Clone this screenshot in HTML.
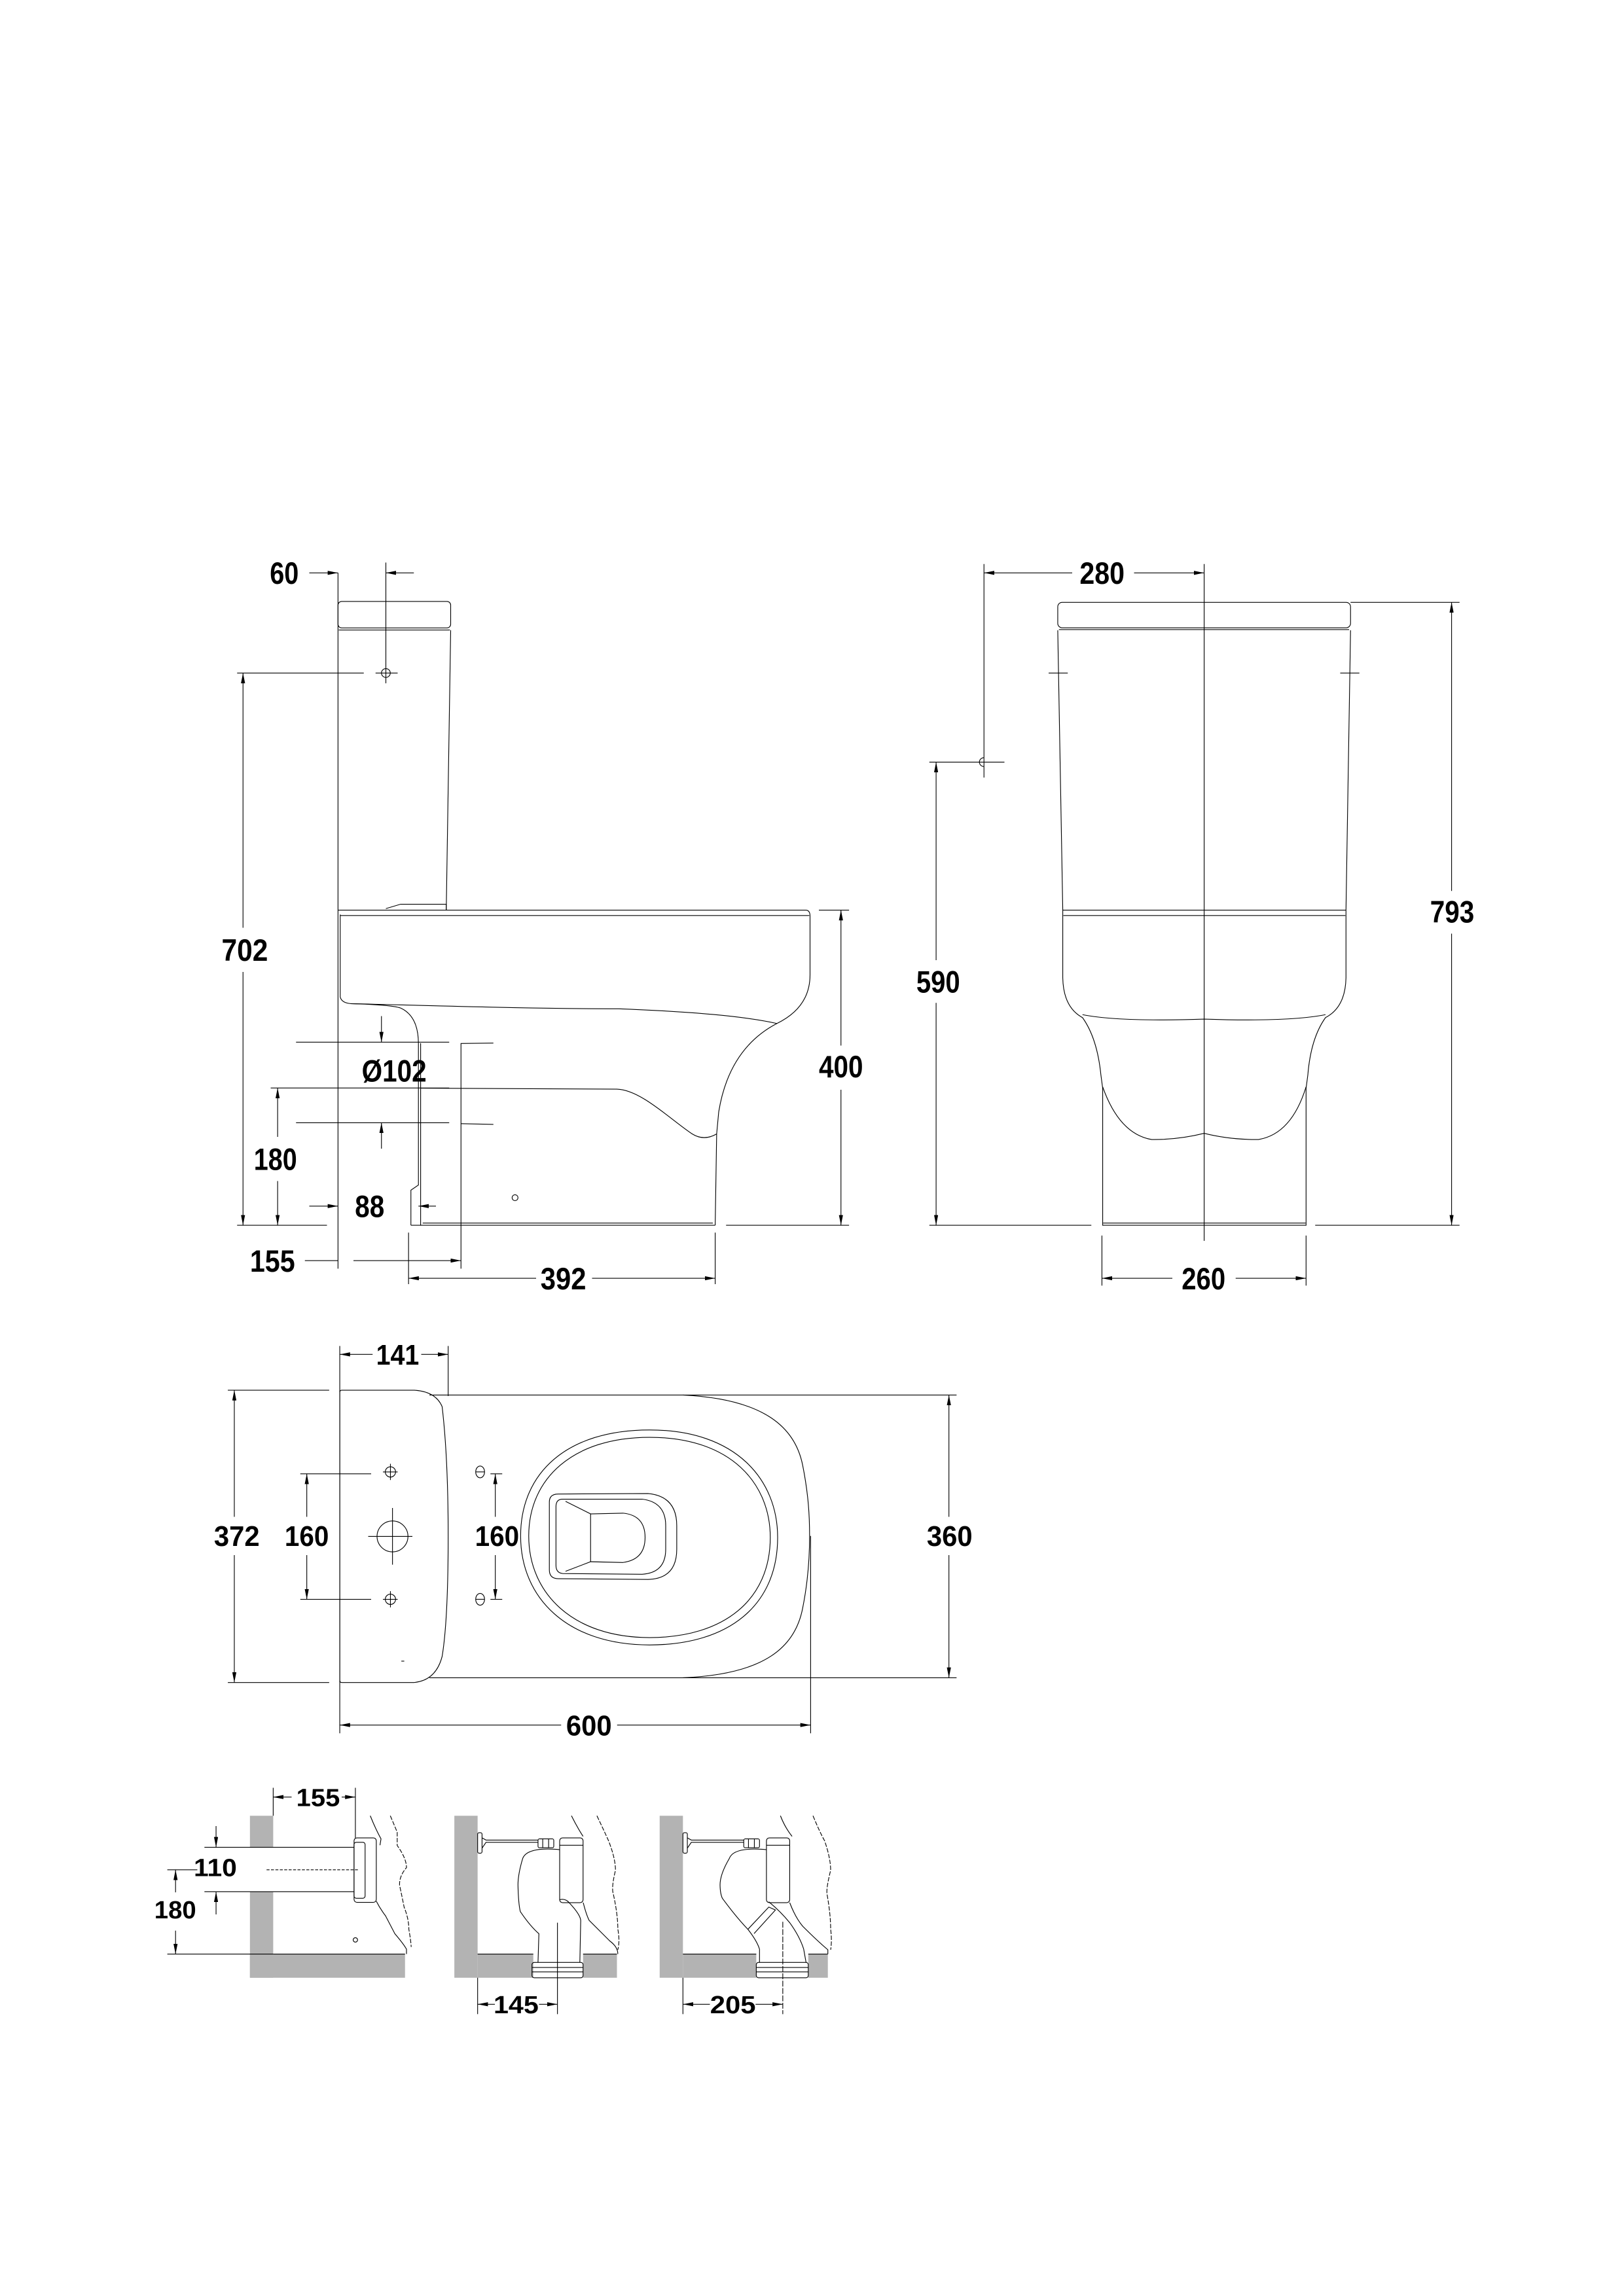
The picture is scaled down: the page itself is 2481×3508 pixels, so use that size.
<!DOCTYPE html>
<html><head><meta charset="utf-8">
<style>
html,body{margin:0;padding:0;background:#fff;}
svg{display:block;}
text{font-family:"Liberation Sans",Arial,sans-serif;font-weight:bold;fill:#000;text-anchor:middle;}
</style></head>
<body>
<svg width="2481" height="3508" viewBox="0 0 1102.67 1559.11" preserveAspectRatio="none" xmlns="http://www.w3.org/2000/svg">
<defs>
<marker id="a" viewBox="0 0 10 4" refX="10" refY="2" markerWidth="7" markerHeight="2.8" markerUnits="userSpaceOnUse" orient="auto"><path d="M0,0 L10,2 L0,4z" fill="#000"/></marker>
</defs>
<rect width="1102.67" height="1559.11" fill="#fff"/>
<g fill="none" stroke="#000" stroke-width="0.5">

<!-- ================= SIDE VIEW ================= -->
<rect x="229.5" y="408.4" width="76.5" height="18" rx="2.5"/>
<line x1="230" y1="427.8" x2="305.5" y2="427.8"/>
<path d="M306,428 L303,618"/>
<path d="M262,617 L272,614 L303,614 L303,618"/>
<line x1="229.5" y1="408" x2="229.5" y2="861.5"/>
<path d="M229.5,618 L547,618 Q550,618 550,622 L550,662 Q550,684 527.5,695 Q495,712 488,755 L486.6,770 L485.6,832"/>
<line x1="231" y1="621.7" x2="549.5" y2="621.7"/>
<path d="M231,621 L231,677 Q232,681 238,681.5 C300,683 360,685 420,685 C470,687 505,690 527.5,695"/>
<path d="M238,681.5 C255,682 268,683 272,684.5 Q284,690 284.1,708.4 L284.1,804.7 L279,808.2 L279,832"/>
<path d="M285.6,708.4 L285.6,832"/>
<line x1="279" y1="832" x2="485.6" y2="832"/>
<line x1="287" y1="830.5" x2="484" y2="830.5"/>
<path d="M285.6,738.9 L418.8,739.6 C435,740 455,760 470,770 Q478,775 486.6,770"/>
<circle cx="349.7" cy="813.3" r="2"/>
<line x1="229.5" y1="389" x2="229.5" y2="408"/>
<line x1="262" y1="382" x2="262" y2="464"/>
<line x1="210" y1="389" x2="229.5" y2="389" marker-end="url(#a)"/>
<line x1="281" y1="389" x2="262" y2="389" marker-end="url(#a)"/>
<circle cx="262" cy="457" r="3"/>
<line x1="161" y1="457" x2="247" y2="457"/>
<line x1="255" y1="457" x2="270" y2="457"/>
<line x1="165" y1="630" x2="165" y2="457" marker-end="url(#a)"/>
<line x1="165" y1="660" x2="165" y2="832" marker-end="url(#a)"/>
<line x1="161" y1="832" x2="222" y2="832"/>
<line x1="493" y1="832" x2="576.5" y2="832"/>
<line x1="183.8" y1="738.8" x2="305" y2="738.8"/>
<line x1="188.5" y1="772" x2="188.5" y2="738.8" marker-end="url(#a)"/>
<line x1="188.5" y1="802" x2="188.5" y2="832" marker-end="url(#a)"/>
<line x1="201" y1="707.7" x2="305" y2="707.7"/>
<line x1="201" y1="762.4" x2="305" y2="762.4"/>
<line x1="259" y1="690" x2="259" y2="707.7" marker-end="url(#a)"/>
<line x1="259" y1="780" x2="259" y2="762.4" marker-end="url(#a)"/>
<path d="M335,708.3 L313,708.6 L313,861.5"/>
<path d="M313,763 L335,763.5"/>
<line x1="210" y1="819" x2="229.5" y2="819" marker-end="url(#a)"/>
<line x1="296" y1="819" x2="284.1" y2="819" marker-end="url(#a)"/>
<line x1="207" y1="856" x2="229.5" y2="856"/>
<line x1="240" y1="856" x2="313" y2="856" marker-end="url(#a)"/>
<line x1="277.4" y1="837" x2="277.4" y2="872"/>
<line x1="485.6" y1="837" x2="485.6" y2="872"/>
<line x1="364" y1="868" x2="277.4" y2="868" marker-end="url(#a)"/>
<line x1="402" y1="868" x2="485.6" y2="868" marker-end="url(#a)"/>
<line x1="556" y1="618" x2="576.5" y2="618"/>
<line x1="571" y1="710" x2="571" y2="618" marker-end="url(#a)"/>
<line x1="571" y1="740" x2="571" y2="832" marker-end="url(#a)"/>

<!-- ================= FRONT VIEW ================= -->
<rect x="718.2" y="409" width="198.8" height="17.3" rx="3"/>
<line x1="719" y1="427.5" x2="916" y2="427.5"/>
<path d="M718.2,428 L721.6,618 M917,428 L913.9,618"/>
<line x1="712" y1="457" x2="725" y2="457"/>
<line x1="910" y1="457" x2="923" y2="457"/>
<line x1="721.6" y1="618" x2="913.9" y2="618"/>
<line x1="722" y1="621.7" x2="913.5" y2="621.7"/>
<path d="M721.6,618 L721.6,664 Q722,684 735,691 Q745,705 747.5,730 L748.7,739 L748.7,832 L886.8,832 L886.8,739 L888,730 Q890,705 900,691 Q913.5,684 913.9,664 L913.9,618"/>
<path d="M735,689 Q760,694 817.6,692 Q875,694 900,689"/>
<path d="M748.7,738 Q760,770 782,773.8 Q800,774 817.6,769.6 Q835,774 854.5,773.8 Q877,770 886.8,738"/>
<line x1="749" y1="830.5" x2="886.5" y2="830.5"/>
<line x1="668.1" y1="383" x2="668.1" y2="528"/>
<line x1="817.6" y1="383" x2="817.6" y2="842.6"/>
<line x1="728" y1="389" x2="668.1" y2="389" marker-end="url(#a)"/>
<line x1="770" y1="389" x2="817.6" y2="389" marker-end="url(#a)"/>
<path d="M668,514.5 A3,3 0 1,0 668,520.5"/>
<line x1="631" y1="517.5" x2="682" y2="517.5"/>
<line x1="635.6" y1="652" x2="635.6" y2="517.5" marker-end="url(#a)"/>
<line x1="635.6" y1="681" x2="635.6" y2="832" marker-end="url(#a)"/>
<line x1="631" y1="832" x2="741" y2="832"/>
<line x1="893" y1="832" x2="991" y2="832"/>
<line x1="917" y1="409" x2="991" y2="409"/>
<line x1="985.6" y1="605" x2="985.6" y2="409" marker-end="url(#a)"/>
<line x1="985.6" y1="634" x2="985.6" y2="832" marker-end="url(#a)"/>
<line x1="748.2" y1="839" x2="748.2" y2="873"/>
<line x1="886.8" y1="839" x2="886.8" y2="873"/>
<line x1="796" y1="868" x2="748.2" y2="868" marker-end="url(#a)"/>
<line x1="839" y1="868" x2="886.8" y2="868" marker-end="url(#a)"/>

<!-- ================= TOP VIEW ================= -->
<path d="M232,944 L281.3,944 Q296,945 300.2,955.2 Q304.3,990 304.3,1043 Q304.3,1100 300.2,1124.8 Q296,1141 281.3,1142.5 L232,1142.5 Q230.7,1142.5 230.7,1141 L230.7,945.5 Q230.7,944 232,944Z"/>
<path d="M291.6,947.3 L463.6,947.3 C520,950 540,970 545,995 C549,1015 549.7,1030 549.7,1043 C549.7,1056 549,1072 545,1092 C540,1118 520,1137 463.6,1139.3 L291.6,1139.3"/>
<path d="M353.5,1043 C353.5,1000 385,971 441,971 C500,971 528,1005 528,1044 C528,1090 495,1117 441,1117 C385,1117 353.5,1085 353.5,1043Z"/>
<path d="M359,1043 C359,1004 389,976 441,976 C497,976 523,1008 523,1044 C523,1086 492,1112 441,1112 C389,1112 359,1082 359,1043Z"/>
<path d="M379,1014.5 L440,1014.2 Q459.5,1016 459.5,1036 L459.5,1052 Q459.5,1072 440,1072.5 L379,1072 Q373,1072 373,1066 L373,1020 Q373,1014.5 379,1014.5Z"/>
<path d="M382,1018 L436,1018 Q452,1020 452,1036 L452,1052 Q452,1068 436,1069 L382,1068.5 Q377.5,1068 377.5,1063 L377.5,1023 Q377.5,1018 382,1018Z"/>
<path d="M384,1019.5 L401,1028 L423,1027.5 Q438,1029 438,1044 Q438,1059 423,1061 L401,1060.5 L384,1067"/>
<line x1="401" y1="1028" x2="401" y2="1060.5"/>
<g>
<circle cx="265.1" cy="999.5" r="3.5"/><line x1="265.1" y1="994" x2="265.1" y2="1005"/><line x1="260" y1="999.5" x2="270" y2="999.5"/>
<circle cx="265.1" cy="1086" r="3.5"/><line x1="265.1" y1="1080.5" x2="265.1" y2="1091.5"/><line x1="260" y1="1086" x2="270" y2="1086"/>
<ellipse cx="266.5" cy="1043.3" rx="10.5" ry="10.5"/>
<line x1="250" y1="1043.3" x2="280" y2="1043.3"/><line x1="266.5" y1="1024" x2="266.5" y2="1062.5"/>
<ellipse cx="326" cy="999.5" rx="3" ry="4"/><line x1="323" y1="999.5" x2="329" y2="999.5"/>
<ellipse cx="326" cy="1086" rx="3" ry="4"/><line x1="323" y1="1086" x2="329" y2="1086"/>
</g>
<line x1="272.5" y1="1128" x2="274.5" y2="1128"/>
<line x1="230.7" y1="914" x2="230.7" y2="1177"/>
<line x1="304.3" y1="914" x2="304.3" y2="948"/>
<line x1="253" y1="919.7" x2="230.7" y2="919.7" marker-end="url(#a)"/>
<line x1="286" y1="919.7" x2="304.3" y2="919.7" marker-end="url(#a)"/>
<line x1="154.7" y1="944" x2="223.5" y2="944"/>
<line x1="154.7" y1="1142.5" x2="223.5" y2="1142.5"/>
<line x1="159.1" y1="1030" x2="159.1" y2="944" marker-end="url(#a)"/>
<line x1="159.1" y1="1056" x2="159.1" y2="1142.5" marker-end="url(#a)"/>
<line x1="203.9" y1="1000.8" x2="252" y2="1000.8"/>
<line x1="203.9" y1="1086" x2="252" y2="1086"/>
<line x1="208.3" y1="1030" x2="208.3" y2="1000.8" marker-end="url(#a)"/>
<line x1="208.3" y1="1056" x2="208.3" y2="1086" marker-end="url(#a)"/>
<line x1="333" y1="1000.8" x2="341" y2="1000.8"/>
<line x1="333" y1="1086" x2="341" y2="1086"/>
<line x1="336.3" y1="1030" x2="336.3" y2="1000.8" marker-end="url(#a)"/>
<line x1="336.3" y1="1056" x2="336.3" y2="1086" marker-end="url(#a)"/>
<line x1="463.6" y1="947.3" x2="649.5" y2="947.3"/>
<line x1="463.6" y1="1139.3" x2="649.5" y2="1139.3"/>
<line x1="644.3" y1="1030" x2="644.3" y2="947.3" marker-end="url(#a)"/>
<line x1="644.3" y1="1056" x2="644.3" y2="1139.3" marker-end="url(#a)"/>
<line x1="550.4" y1="1043" x2="550.4" y2="1177"/>
<line x1="381" y1="1171.4" x2="230.7" y2="1171.4" marker-end="url(#a)"/>
<line x1="419" y1="1171.4" x2="550.4" y2="1171.4" marker-end="url(#a)"/>

<!-- ================= DETAIL 1 ================= -->
<g stroke="none" fill="#b3b3b3">
<rect x="169.7" y="1233" width="15.8" height="21.4"/>
<rect x="169.7" y="1284.6" width="15.8" height="58.4"/>
<rect x="169.7" y="1326.9" width="105.3" height="16.1"/>
</g>
<line x1="185.5" y1="1326.9" x2="275" y2="1326.9"/>
<line x1="138.8" y1="1254.4" x2="240.4" y2="1254.4"/>
<line x1="138.8" y1="1284.6" x2="240.4" y2="1284.6"/>
<line x1="181" y1="1269.7" x2="244" y2="1269.7" stroke-dasharray="2,1"/>
<rect x="240.4" y="1248" width="15.1" height="43.8" rx="2"/>
<rect x="240.4" y="1251" width="7.5" height="38" rx="1.5"/>
<path d="M251.4,1233 Q255,1242 258.7,1248.7 L258,1253 M255.5,1291 Q258,1296 261.8,1301 L268.1,1313.1 Q274,1320 276,1323.6 L276,1326.9"/>
<path d="M265,1233 Q268,1240 269.7,1244.2 L269.7,1253.2 Q276,1262 276,1268.2 Q271,1274 271.3,1280.2 Q273,1288 274.4,1295.1 Q277.6,1303 277.6,1310.1 Q279,1318 279.2,1322.1" stroke-dasharray="3,1"/>
<circle cx="241.3" cy="1317.3" r="1.5"/>
<line x1="185.5" y1="1214" x2="185.5" y2="1233"/>
<line x1="241.3" y1="1214" x2="241.3" y2="1248"/>
<line x1="198" y1="1220.3" x2="185.5" y2="1220.3" marker-end="url(#a)"/>
<line x1="232" y1="1220.3" x2="241.3" y2="1220.3" marker-end="url(#a)"/>
<line x1="146.7" y1="1240" x2="146.7" y2="1254.4" marker-end="url(#a)"/>
<line x1="146.7" y1="1300" x2="146.7" y2="1284.6" marker-end="url(#a)"/>
<line x1="113.6" y1="1269.7" x2="134" y2="1269.7"/>
<line x1="113.6" y1="1326.9" x2="185.5" y2="1326.9"/>
<line x1="119.2" y1="1285" x2="119.2" y2="1269.7" marker-end="url(#a)"/>
<line x1="119.2" y1="1311" x2="119.2" y2="1326.9" marker-end="url(#a)"/>

<!-- ================= DETAIL 2 ================= -->
<g stroke="none" fill="#b3b3b3">
<rect x="308.5" y="1233" width="15.8" height="110"/>
<rect x="324.3" y="1326.9" width="37.8" height="16.1"/>
<rect x="395.9" y="1326.9" width="23" height="16.1"/>
</g>
<line x1="324.3" y1="1326.9" x2="362.1" y2="1326.9"/>
<line x1="395.9" y1="1326.9" x2="418.9" y2="1326.9"/>
<rect x="324.3" y="1244.5" width="3" height="13.9" rx="1"/>
<path d="M327.3,1248 L330,1249.5 L365.3,1249.5 M327.3,1255 L330,1251 L365.3,1251"/>
<rect x="365.3" y="1248.7" width="10.7" height="6" rx="1"/>
<line x1="368.5" y1="1248.7" x2="368.5" y2="1254.7"/><line x1="372.5" y1="1248.7" x2="372.5" y2="1254.7"/>
<rect x="380" y="1248" width="15.9" height="44" rx="2"/>
<line x1="380" y1="1253" x2="395.9" y2="1253"/>
<path d="M380,1256 Q358,1254 354.9,1262 Q351.7,1272.7 351.7,1280 Q352,1293 353.3,1298.1 Q360,1308 365.9,1313.1 L365.3,1332.6"/>
<path d="M380,1290 Q384,1289 386.4,1292 Q394,1300 394.3,1304.1 L393.7,1332.6"/>
<rect x="361.2" y="1332.6" width="34.7" height="10.4" rx="1.5"/>
<line x1="361.2" y1="1336" x2="395.9" y2="1336"/><line x1="361.2" y1="1339" x2="395.9" y2="1339"/>
<path d="M388,1233 Q392,1241 395.9,1247 M396,1292 Q398,1300 400,1304 Q408,1312 414,1318 Q419.5,1322 419.5,1326.9"/>
<path d="M405.3,1233 Q411,1245 413.2,1250 Q417.9,1262 417.9,1270 Q415,1282 416.4,1286 Q419.5,1300 419.5,1310 Q421,1318 419.5,1324" stroke-dasharray="3,1"/>
<line x1="378.5" y1="1305.6" x2="378.5" y2="1367.7"/>
<line x1="324.3" y1="1343" x2="324.3" y2="1367.7"/>
<line x1="336" y1="1361" x2="324.3" y2="1361" marker-end="url(#a)"/>
<line x1="366" y1="1361" x2="378.5" y2="1361" marker-end="url(#a)"/>

<!-- ================= DETAIL 3 ================= -->
<g stroke="none" fill="#b3b3b3">
<rect x="447.9" y="1233" width="15.8" height="110"/>
<rect x="463.7" y="1326.9" width="49.8" height="16.1"/>
<rect x="548.8" y="1326.9" width="13.3" height="16.1"/>
</g>
<line x1="463.7" y1="1326.9" x2="513.5" y2="1326.9"/>
<line x1="548.8" y1="1326.9" x2="562.1" y2="1326.9"/>
<rect x="463.7" y="1244.5" width="3" height="13.9" rx="1"/>
<path d="M466.7,1248 L469.4,1249.5 L505,1249.5 M466.7,1255 L469.4,1251 L505,1251"/>
<rect x="505" y="1248.7" width="10.7" height="6" rx="1"/>
<line x1="508.2" y1="1248.7" x2="508.2" y2="1254.7"/><line x1="512.2" y1="1248.7" x2="512.2" y2="1254.7"/>
<rect x="520.4" y="1248" width="15.8" height="44" rx="2"/>
<line x1="520.4" y1="1253" x2="536.2" y2="1253"/>
<path d="M520.4,1256 Q498,1254 495.2,1262 Q488.9,1272.7 488.9,1280 Q489,1286 490.5,1289.1 Q500,1302 507.8,1310.1 Q514,1318 515.7,1323.6 L515.7,1332.6"/>
<path d="M507.8,1310.1 L522,1295 L526.5,1297 L512,1313"/>
<path d="M522,1291.4 Q530,1298 536.2,1305.6 Q543,1315 545.7,1323.6 L547.3,1332.6"/>
<rect x="513.5" y="1332.6" width="35.3" height="10.4" rx="1.5"/>
<line x1="513.5" y1="1336" x2="548.8" y2="1336"/><line x1="513.5" y1="1339" x2="548.8" y2="1339"/>
<path d="M529.9,1233 Q533,1241 537.8,1247 M536.2,1292 Q540,1302 545,1308 Q555,1318 562.1,1324 L562.1,1326.9"/>
<path d="M552,1233 Q557,1245 559.9,1250 Q564,1262 564,1270 Q561,1282 561.5,1286 Q564,1300 564,1310 Q565,1318 564,1324" stroke-dasharray="3,1"/>
<line x1="531.5" y1="1305" x2="531.5" y2="1367.7" stroke-dasharray="4,1"/>
<line x1="463.7" y1="1343" x2="463.7" y2="1367.7"/>
<line x1="482" y1="1361" x2="463.7" y2="1361" marker-end="url(#a)"/>
<line x1="513" y1="1361" x2="531.5" y2="1361" marker-end="url(#a)"/>
</g>

<!-- ================= TEXT ================= -->
<g font-size="21">
<text x="193" y="396.5" textLength="19.6" lengthAdjust="spacingAndGlyphs">60</text>
<text x="166.2" y="652.5" textLength="31.5" lengthAdjust="spacingAndGlyphs">702</text>
<text x="267.6" y="734.5" textLength="44" lengthAdjust="spacingAndGlyphs">Ø102</text>
<text x="187" y="794.5" textLength="29.3" lengthAdjust="spacingAndGlyphs">180</text>
<text x="251" y="826.5" textLength="20" lengthAdjust="spacingAndGlyphs">88</text>
<text x="185" y="863.5" textLength="30.6" lengthAdjust="spacingAndGlyphs">155</text>
<text x="382.5" y="875.5" textLength="31" lengthAdjust="spacingAndGlyphs">392</text>
<text x="571" y="731.5" textLength="30" lengthAdjust="spacingAndGlyphs">400</text>
<text x="748.3" y="396.5" textLength="30.5" lengthAdjust="spacingAndGlyphs">280</text>
<text x="637" y="674" textLength="29.7" lengthAdjust="spacingAndGlyphs">590</text>
<text x="986" y="626.5" textLength="30" lengthAdjust="spacingAndGlyphs">793</text>
<text x="817.2" y="875.5" textLength="29.7" lengthAdjust="spacingAndGlyphs">260</text>
</g>
<g font-size="19.5">
<text x="270" y="926.7" textLength="29.2" lengthAdjust="spacingAndGlyphs">141</text>
<text x="160.8" y="1049.8" textLength="31" lengthAdjust="spacingAndGlyphs">372</text>
<text x="208.3" y="1049.8" textLength="30" lengthAdjust="spacingAndGlyphs">160</text>
<text x="337.5" y="1049.8" textLength="30" lengthAdjust="spacingAndGlyphs">160</text>
<text x="644.8" y="1049.8" textLength="31" lengthAdjust="spacingAndGlyphs">360</text>
<text x="399.9" y="1178.4" textLength="31" lengthAdjust="spacingAndGlyphs">600</text>
</g>
<g font-size="17">
<text x="216" y="1226.4" textLength="29.6" lengthAdjust="spacingAndGlyphs">155</text>
<text x="146.2" y="1274.1" textLength="29.3" lengthAdjust="spacingAndGlyphs">110</text>
<text x="119" y="1302.7" textLength="28.4" lengthAdjust="spacingAndGlyphs">180</text>
<text x="350.4" y="1367.1" textLength="30.6" lengthAdjust="spacingAndGlyphs">145</text>
<text x="497.6" y="1367.1" textLength="31" lengthAdjust="spacingAndGlyphs">205</text>
</g>
</svg>
</body></html>
